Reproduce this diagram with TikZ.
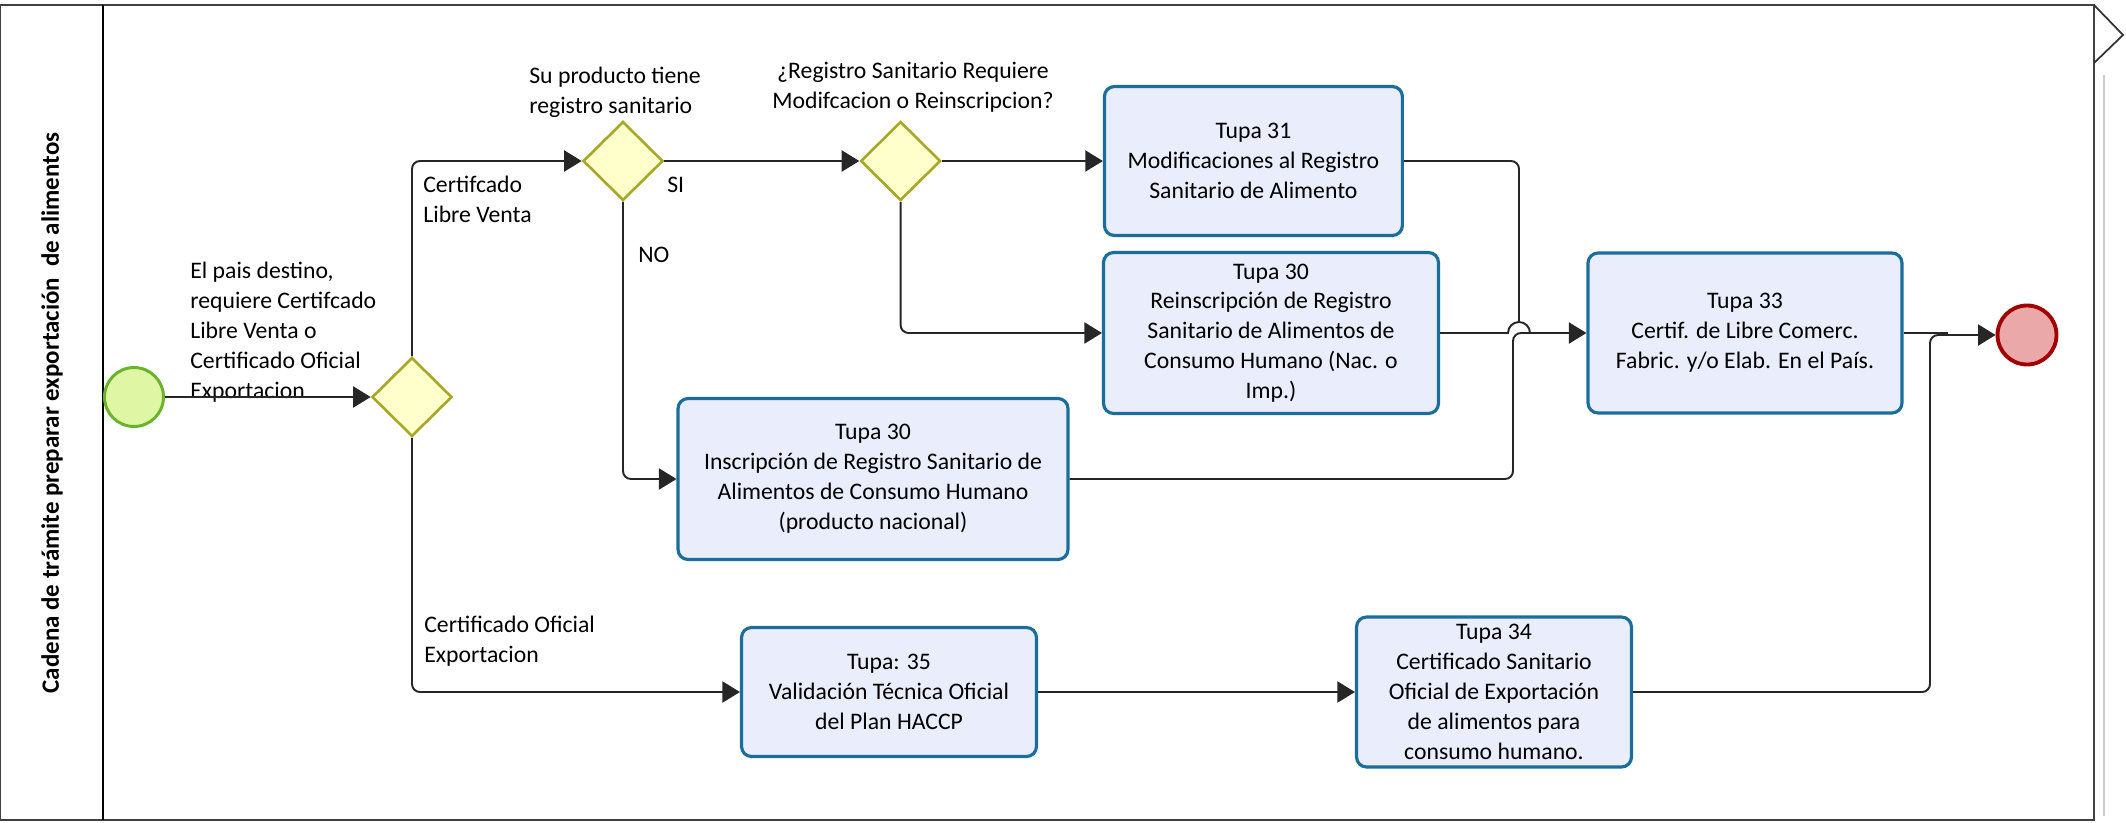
\documentclass[tikz,border=0pt]{standalone}
\usepackage{fontspec}
\setmainfont{Carlito}
\usepackage{tikz}
\usetikzlibrary{positioning,shapes.geometric,arrows.meta}

\definecolor{startfill}{HTML}{DFF7A4}
\definecolor{startline}{HTML}{6AB42D}
\definecolor{gatefill}{HTML}{FFFFCC}
\definecolor{gateline}{HTML}{A8A828}
\definecolor{taskfill}{HTML}{E9EDFC}
\definecolor{taskline}{HTML}{1B6E9C}
\definecolor{endfill}{HTML}{EBA8A8}
\definecolor{endline}{HTML}{A00000}

\tikzset{
	startev/.style={circle, draw=startline, fill=startfill, line width=1.7pt, minimum size=1.18cm, inner sep=0pt},
	endev/.style={circle, draw=endline, fill=endfill, line width=2.2pt, minimum size=1.18cm, inner sep=0pt},
	gate/.style={diamond, draw=gateline, fill=gatefill, line width=1.5pt, minimum width=1.6cm, minimum height=1.58cm, inner sep=0pt},
	task/.style={rectangle, rounded corners=0.2cm, draw=taskline, fill=taskfill, line width=1.8pt, align=center, inner sep=0pt, font=\fontsize{13.5}{17}\selectfont},
	lbl/.style={inner sep=0pt, align=left, font=\fontsize{13.5}{17}\selectfont},
	conn/.style={draw=black!85, line width=1.1pt, rounded corners=0.16cm},
	flow/.style={conn, -{Triangle[length=10pt,width=12pt]}},
}

\begin{document}
\begin{tikzpicture}[x=0.02cm, y=-0.02cm]
		\useasboundingbox (0,0) rectangle (2126,822);

		% Pool and lane
		\draw[line width=1.2pt, draw=black!75] (0,5) rectangle (2094,820);
		\draw[line width=1.2pt] (103,5) -- (103,820);
		\draw[line width=1pt, black!80] (2094,5) -- (2123,35) -- (2094,63);
		\draw[line width=0.8pt, black!20] (2104,75) -- (2104,816);
		\node[rotate=90, font=\bfseries\fontsize{14.2}{16}\selectfont] (title) at (52,413) {Cadena de trámite preparar exportación~ de alimentos};

		% Define nodes
		\node[startev] (start) at (134,397) {};
		\node[gate] (g1) at (412,397) {};
		\node[gate] (g2) at (623,161) {};
		\node[gate, right=3.9cm of g2] (g3) {};
		\node[task, minimum width=5.96cm, minimum height=2.98cm, right=3.22cm of g3] (t31) {Tupa 31\\Modificaciones al Registro\\Sanitario de Alimento};
		\node[task, minimum width=6.7cm, minimum height=3.22cm] (t30r) at (1271,333) {Tupa 30\\Reinscripción de Registro\\Sanitario de Alimentos de\\Consumo Humano (Nac. o\\Imp.)};
		\node[task, minimum width=7.8cm, minimum height=3.22cm] (t30i) at (873,479) {Tupa 30\\Inscripción de Registro Sanitario de\\Alimentos de Consumo Humano\\(producto nacional)};
		\node[task, minimum width=6.28cm, minimum height=3.2cm] (t33) at (1745,333) {Tupa 33\\Certif. de Libre Comerc.\\Fabric. y/o Elab. En el País.};
		\node[task, minimum width=5.9cm, minimum height=2.58cm] (t35) at (889,692) {Tupa: 35\\Validación Técnica Oficial\\del Plan HACCP};
		\node[task, minimum width=5.5cm, minimum height=3.0cm] (t34) at (1494,692) {Tupa 34\\Certificado Sanitario\\Oficial de Exportación\\de alimentos para\\consumo humano.};
		\node[endev] (fin) at (2027,335) {};

		% Labels
		\node[lbl, anchor=west] (lstart) at (190,332) {El pais destino,\\requiere Certifcado\\Libre Venta o\\Certificado Oficial\\Exportacion};
		\node[lbl, anchor=west] (llv) at (423,199) {Certifcado\\Libre Venta};
		\node[lbl, anchor=west] (lsi) at (667,185) {SI};
		\node[lbl, anchor=west] (lno) at (638,255) {NO};
		\node[lbl, anchor=west] (lq1) at (529,92) {Su producto tiene\\registro sanitario};
		\node[lbl, align=center] (lq2) at (913,87) {¿Registro Sanitario Requiere\\Modifcacion o Reinscripcion?};
		\node[lbl, anchor=west] (lco) at (424,641) {Certificado Oficial\\Exportacion};

		% Junction points
		\coordinate (hopL) at (1508,333);
		\coordinate (hopT) at (1519,322);
		\coordinate (insT) at (1513,333);
		\coordinate (insJ) at (1532,333);
		\coordinate (t33o) at (1948,333);
		\coordinate (finJ) at (1930,335);

		% Connect the nodes
		\draw[flow] (start) -- (g1);
		\draw[flow] (g1.north) |- (g2.west);
		\draw[flow] (g1.south) |- (t35.west);
		\draw[flow] (g2) -- (g3);
		\draw[flow] (g2.south) |- (t30i.west);
		\draw[flow] (g3) -- (t31);
		\draw[flow] (g3.south) |- (t30r.west);
		\draw[flow, sharp corners] (t30r.east) -- (hopL) arc[start angle=180, end angle=0, radius=0.22cm] -- (t33.west);
		\draw[conn] (t31.east) -| (hopT);
		\draw[conn] (t30i.east) -| (insT) -- (insJ);
		\draw[flow] (t35) -- (t34);
		\draw[conn] (t33.east) -- (t33o);
		\draw[flow] (t34.east) -| (finJ) -- (fin.west);

\end{tikzpicture}
\end{document}
